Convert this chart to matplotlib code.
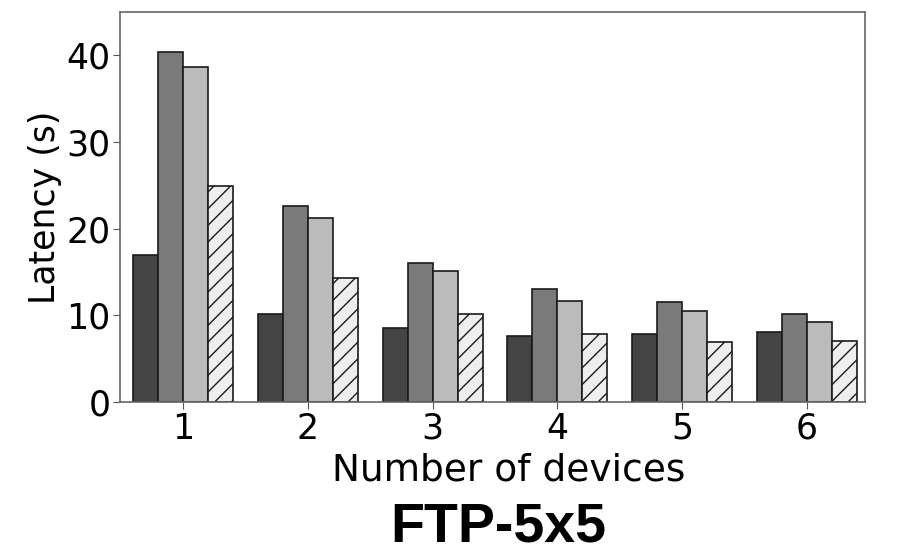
import numpy as np
import matplotlib
matplotlib.use("Agg")
import matplotlib.pyplot as plt

# ── data ──────────────────────────────────────────────────────────────────────
devices = [1, 2, 3, 4, 5, 6]
series_a = [17.0, 10.2, 8.5, 7.6, 7.8, 8.1]
series_b = [40.4, 22.6, 16.0, 13.0, 11.5, 10.2]
series_c = [38.6, 21.2, 15.1, 11.6, 10.5, 9.2]
series_d = [24.9, 14.3, 10.1, 7.8, 6.9, 7.0]

# ── plot ──────────────────────────────────────────────────────────────────────
plt.rcParams["hatch.linewidth"] = 1.0

fig = plt.figure(figsize=(8.97, 5.55), dpi=100)
ax = fig.add_axes([0.1338, 0.2757, 0.8305, 0.7027])

x = np.array(devices, dtype=float)
w = 0.2
styles = [
    (series_a, -1.5, "#444444", None),
    (series_b, -0.5, "#7a7a7a", None),
    (series_c,  0.5, "#bbbbbb", None),
    (series_d,  1.5, "#eeeeee", "//"),
]
for vals, off, col, hatch in styles:
    ax.bar(x + off * w, vals, width=w, color=col, edgecolor="#1a1a1a",
           linewidth=1.2, hatch=hatch)

ax.set_xlim(0.495, 6.465)
ax.set_ylim(0, 45)
ax.set_xticks(devices)
ax.set_yticks([0, 10, 20, 30, 40])
ax.tick_params(labelsize=25, color="#555555", length=5, pad=2)
ax.set_xlabel("Number of devices", fontsize=27, labelpad=5)
ax.xaxis.label.set_x(0.522)
ax.set_ylabel("Latency (s)", fontsize=25, labelpad=3)
for sp in ax.spines.values():
    sp.set_color("#666666")
    sp.set_linewidth(1.2)

fig.text(0.555, 0.024, "FTP-5x5", fontsize=40, fontweight="bold",
         family="Liberation Sans", ha="center", va="baseline")

fig.savefig("out.png", dpi=100)
plt.close(fig)
